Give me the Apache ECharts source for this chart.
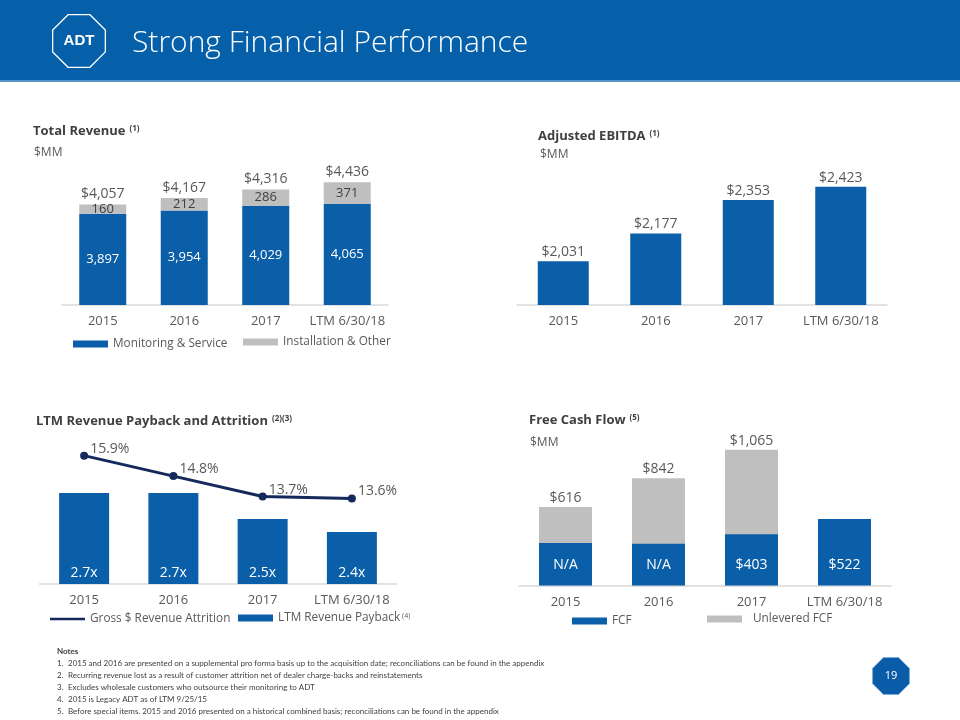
<!DOCTYPE html>
<html>
<head>
<meta charset="utf-8">
<script src="https://cdn.jsdelivr.net/npm/echarts@6/dist/echarts.min.js"></script>
<style>
html,body{margin:0;padding:0;background:#fff;}
#main{width:960px;height:720px;}
</style>
</head>
<body>
<div id="main"></div>
<script>
// ---------- DATA ----------
const categories = ['2015', '2016', '2017', 'LTM 6/30/18'];
const monitoringService = [3897, 3954, 4029, 4065];
const installationOther = [160, 212, 286, 371];
const totalRevenue = [4057, 4167, 4316, 4436];
const adjustedEbitda = [2031, 2177, 2353, 2423];
const revenuePayback = [2.7, 2.7, 2.5, 2.4];
const grossAttrition = [15.9, 14.8, 13.7, 13.6];
const unleveredFcf = [616, 842, 1065, null];
const fcfValues = [333, 328, 403, 522];          // 2015/2016 bar heights estimated (shown as N/A)
const fcfLabels = ['N/A', 'N/A', '$403', '$522'];
const noteLines = [
  '2015 and 2016 are presented on a supplemental pro forma basis up to the acquisition date; reconciliations can be found in the appendix',
  'Recurring revenue lost as a result of customer attrition net of dealer charge-backs and reinstatements',
  'Excludes wholesale customers who outsource their monitoring to ADT',
  '2015 is Legacy ADT as of LTM 9/25/15',
  'Before special items. 2015 and 2016 presented on a historical combined basis; reconciliations can be found in the appendix'
];

// ---------- STYLE ----------
const BLUE = '#0A5FA8';
const GRAY = '#BFBFBF';
const NAVY = '#16295C';
const TXT = '#595959';
const DARK = '#404040';
const FONT = '"Open Sans", "Noto Sans", sans-serif';
const LEGEND_SIZE = 11.8;

function fmt(n) { return String(n).replace(/\B(?=(\d{3})+(?!\d))/g, ','); }

function octagon(cx, cy, r) {
  const pts = [];
  for (let k = 0; k < 8; k++) {
    const a = (22.5 + 45 * k) * Math.PI / 180;
    pts.push([cx + r * Math.cos(a), cy + r * Math.sin(a)]);
  }
  return pts;
}

function txt(text, x, y, size, opts) {
  opts = opts || {};
  return {
    type: 'text', x: x, y: y, silent: true,
    style: {
      text: text,
      fill: opts.fill || TXT,
      fontSize: size,
      fontFamily: opts.family || FONT,
      fontWeight: opts.weight || 'normal',
      textAlign: opts.align || 'left',
      textVerticalAlign: 'middle'
    }
  };
}

function titleText(main, sup, x, y) {
  return {
    type: 'text', x: x, y: y, silent: true,
    style: {
      text: '{t|' + main + '}{s|' + sup + '}',
      textAlign: 'left',
      textVerticalAlign: 'middle',
      rich: {
        t: { fontSize: 13, fontWeight: 'bold', fill: DARK, fontFamily: FONT },
        s: { fontSize: 8, fontWeight: 'bold', fill: DARK, fontFamily: FONT, verticalAlign: 'top', padding: [0, 0, 0, 4] }
      }
    }
  };
}

const graphics = [
  { type: 'rect', shape: { x: 0, y: 0, width: 960, height: 81 }, style: { fill: '#0560A9' }, silent: true },
  { type: 'rect', shape: { x: 0, y: 80, width: 960, height: 2 }, style: { fill: '#5A93CC' }, silent: true },
  { type: 'polygon', shape: { points: octagon(79, 41, 28.5) }, style: { fill: 'none', stroke: '#FFFFFF', lineWidth: 1.3 }, silent: true },
  txt('ADT', 79, 41, 15, { fill: '#FFFFFF', weight: 'bold', align: 'center', family: '"Liberation Sans", Arial, sans-serif' }),
  txt('Strong Financial Performance', 132, 43, 30, { fill: '#FFFFFF', weight: 300 }),

  titleText('Total Revenue', '(1)', 33, 131),
  txt('$MM', 34, 153, 12),

  titleText('Adjusted EBITDA', '(1)', 538, 136),
  txt('$MM', 540, 155, 12),

  titleText('LTM Revenue Payback and Attrition', '(2)(3)', 36, 421),

  titleText('Free Cash Flow', '(5)', 529, 420),
  txt('$MM', 530, 443, 12),

  txt('Notes', 57, 651, 8, { fill: DARK, weight: 'bold', family: 'Lato, sans-serif' }),

  { type: 'polygon', shape: { points: octagon(891, 676, 20) }, style: { fill: '#0B5CA8', stroke: '#7FAEDB', lineWidth: 1 }, silent: true },
  txt('19', 891, 676, 11, { fill: '#FFFFFF', align: 'center' })
];
noteLines.forEach(function (line, i) {
  graphics.push(txt((i + 1) + '.', 57, 663 + i * 12, 8, { fill: DARK, family: 'Lato, sans-serif' }));
  graphics.push(txt(line, 68, 663 + i * 12, 8, { fill: DARK, family: 'Lato, sans-serif' }));
});

function xAxisFor(gridIndex) {
  return {
    type: 'category', gridIndex: gridIndex, data: categories,
    axisLine: { lineStyle: { color: '#D9D9D9', width: 1.5 } },
    axisTick: { show: false },
    axisLabel: { color: TXT, fontSize: 13, fontFamily: FONT, margin: 10, interval: 0 }
  };
}
function yAxisFor(gridIndex, min, max) {
  return { type: 'value', gridIndex: gridIndex, min: min, max: max, show: false, splitLine: { show: false } };
}

function legendFor(name, left, top, extra) {
  extra = extra || {};
  return {
    data: [name], left: left, top: top, padding: 0,
    icon: 'rect', itemWidth: 35, itemHeight: extra.h || 7,
    selectedMode: false,
    formatter: extra.formatter,
    textStyle: Object.assign({ color: TXT, fontSize: LEGEND_SIZE, fontFamily: FONT }, extra.textStyle || {})
  };
}

const option = {
  animation: false,
  backgroundColor: '#FFFFFF',
  textStyle: { fontFamily: FONT },
  graphic: graphics,
  grid: [
    { left: 62, top: 132, width: 326, height: 173 },
    { left: 517, top: 130, width: 370, height: 175 },
    { left: 39.5, top: 440, width: 357, height: 144 },
    { left: 519, top: 439, width: 372, height: 146.5 }
  ],
  xAxis: [xAxisFor(0), xAxisFor(1), xAxisFor(2), xAxisFor(3)],
  yAxis: [
    yAxisFor(0, 2330, 5300),
    yAxisFor(1, 1800, 2722),
    yAxisFor(2, 2, 3.108),
    yAxisFor(2, 9, 16.742),
    yAxisFor(3, 0, 1150)
  ],
  legend: [
    legendFor('Monitoring & Service', 73, 338),
    legendFor('Installation & Other', 243, 336),
    legendFor('Gross $ Revenue Attrition', 50, 613, { h: 2.5 }),
    legendFor('LTM Revenue Payback', 238, 612, {
      formatter: function (name) { return '{n|' + name + '}{s|(4)}'; },
      textStyle: { rich: {
        n: { fontSize: LEGEND_SIZE, color: TXT, fontFamily: FONT },
        s: { fontSize: 7, color: TXT, fontFamily: FONT, verticalAlign: 'top', padding: [0, 0, 0, 2] }
      } }
    }),
    legendFor('FCF', 572, 615),
    legendFor('Unlevered FCF', 707, 613, { textStyle: { padding: [0, 0, 0, 6] } })
  ],
  series: [
    {
      name: 'Monitoring & Service', type: 'bar', xAxisIndex: 0, yAxisIndex: 0, stack: 'rev',
      barWidth: 47, data: monitoringService, itemStyle: { color: BLUE },
      label: { show: true, position: 'inside', color: '#FFFFFF', fontSize: 13, formatter: function (p) { return fmt(p.value); } }
    },
    {
      name: 'Installation & Other', type: 'bar', xAxisIndex: 0, yAxisIndex: 0, stack: 'rev',
      barWidth: 47, data: installationOther, itemStyle: { color: GRAY },
      label: { show: true, position: 'inside', color: DARK, fontSize: 13, formatter: function (p) { return fmt(p.value); } }
    },
    {
      name: 'Total', type: 'bar', xAxisIndex: 0, yAxisIndex: 0, stack: 'rev', silent: true,
      barWidth: 47, data: categories.map(function () { return 0; }), itemStyle: { color: 'transparent' },
      label: { show: true, position: 'top', distance: 3, color: TXT, fontSize: 14,
        formatter: function (p) { return '$' + fmt(totalRevenue[p.dataIndex]); } }
    },
    {
      name: 'Adjusted EBITDA', type: 'bar', xAxisIndex: 1, yAxisIndex: 1,
      barWidth: 51, data: adjustedEbitda, itemStyle: { color: BLUE },
      label: { show: true, position: 'top', distance: 2, color: TXT, fontSize: 14, formatter: function (p) { return '$' + fmt(p.value); } }
    },
    {
      name: 'LTM Revenue Payback', type: 'bar', xAxisIndex: 2, yAxisIndex: 2,
      barWidth: 50, data: revenuePayback, itemStyle: { color: BLUE },
      label: { show: true, position: 'insideBottom', distance: 4, color: '#FFFFFF', fontSize: 14, formatter: function (p) { return p.value.toFixed(1) + 'x'; } }
    },
    {
      name: 'Gross $ Revenue Attrition', type: 'line', xAxisIndex: 2, yAxisIndex: 3,
      data: grossAttrition, itemStyle: { color: NAVY }, lineStyle: { color: NAVY, width: 3 },
      symbol: 'circle', symbolSize: 8, showAllSymbol: true,
      label: { show: true, position: 'right', distance: 2, offset: [0, -7], color: TXT, fontSize: 14,
        formatter: function (p) { return p.value.toFixed(1) + '%'; } }
    },
    {
      name: 'Unlevered FCF', type: 'bar', xAxisIndex: 3, yAxisIndex: 4,
      barWidth: 53, barGap: '-100%', data: unleveredFcf, itemStyle: { color: GRAY },
      label: { show: true, position: 'top', distance: 2, color: TXT, fontSize: 14, formatter: function (p) { return '$' + fmt(p.value); } }
    },
    {
      name: 'FCF', type: 'bar', xAxisIndex: 3, yAxisIndex: 4,
      barWidth: 53, barGap: '-100%', data: fcfValues, itemStyle: { color: BLUE },
      label: { show: true, position: 'insideBottom', distance: 13, color: '#FFFFFF', fontSize: 14,
        formatter: function (p) { return fcfLabels[p.dataIndex]; } }
    }
  ]
};

const chart = echarts.init(document.getElementById('main'), null, { renderer: 'canvas' });
chart.setOption(option);
</script>
</body>
</html>
